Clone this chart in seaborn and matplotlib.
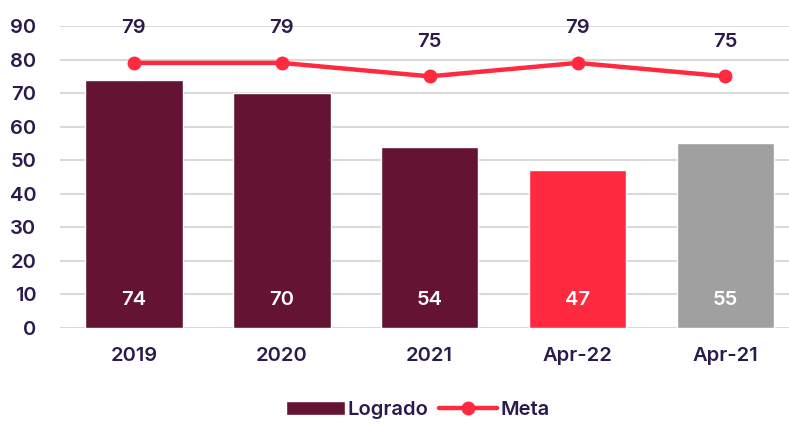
import pandas as pd
import matplotlib.pyplot as plt
import seaborn as sns
from matplotlib.patches import Patch
from matplotlib.lines import Line2D

# Data
CATEGORIES = ['2019', '2020', '2021', 'Apr-22', 'Apr-21']
LOGRADO = [74, 70, 54, 47, 55]
META = [79, 79, 75, 79, 75]

# Colors
MAROON = '#641432'
RED = '#FF2A40'
GREY = '#A0A0A0'
TEXT = '#2B1B4C'
BAR_COLORS = [MAROON, MAROON, MAROON, RED, GREY]

sns.set_theme(style='white')
plt.rcParams['font.family'] = ['Inter', 'DejaVu Sans']
WEIGHT = 'semibold'

df = pd.DataFrame({'Periodo': CATEGORIES, 'Logrado': LOGRADO, 'Meta': META})

fig = plt.figure(figsize=(7.89, 4.26), dpi=100)
ax = fig.add_axes([60 / 789, 1 - 328 / 426, (789 - 60) / 789, (328 - 26) / 426])

sns.barplot(data=df, x='Periodo', y='Logrado', hue='Periodo', palette=BAR_COLORS,
            width=0.66, legend=False, ax=ax, zorder=2, saturation=1)
ax.plot(range(len(CATEGORIES)), df['Meta'], color=RED, lw=3.2, marker='o',
        markersize=9, zorder=4, solid_capstyle='round')

for i, v in enumerate(LOGRADO):
    ax.text(i, 8.3, str(v), ha='center', va='center', color='white',
            fontsize=14.5, fontweight=WEIGHT, zorder=5)
for i, v in enumerate(META):
    ax.text(i, v + 10.3, str(v), ha='center', va='center', color=TEXT,
            fontsize=14.5, fontweight=WEIGHT, zorder=5)

ax.set_ylim(0, 90)
ax.set_xlim(-0.5, 4.43)
ax.set_yticks(range(0, 91, 10))
ax.yaxis.grid(True, color='#D9D9D9', lw=1.5, zorder=0)
ax.set_axisbelow(True)
for s in ax.spines.values():
    s.set_visible(False)
ax.set_xlabel('')
ax.set_ylabel('')
ax.tick_params(axis='y', labelsize=14.5, labelcolor=TEXT, length=0, pad=17)
ax.tick_params(axis='x', labelsize=14.5, labelcolor=TEXT, length=0, pad=14)
for lbl in ax.get_xticklabels() + ax.get_yticklabels():
    lbl.set_fontweight(WEIGHT)

handles = [Patch(facecolor=MAROON, label='Logrado'),
           Line2D([0], [0], color=RED, lw=3.2, marker='o', markersize=9, label='Meta')]
leg = fig.legend(handles=handles, loc='center', bbox_to_anchor=(418 / 789, 1 - 410 / 426),
                 ncol=2, frameon=False, fontsize=14.5, handlelength=2.9, columnspacing=0.5,
                 handletextpad=0.15, labelcolor=TEXT)
for t in leg.get_texts():
    t.set_fontweight(WEIGHT)

fig.savefig('out.png', dpi=100)
